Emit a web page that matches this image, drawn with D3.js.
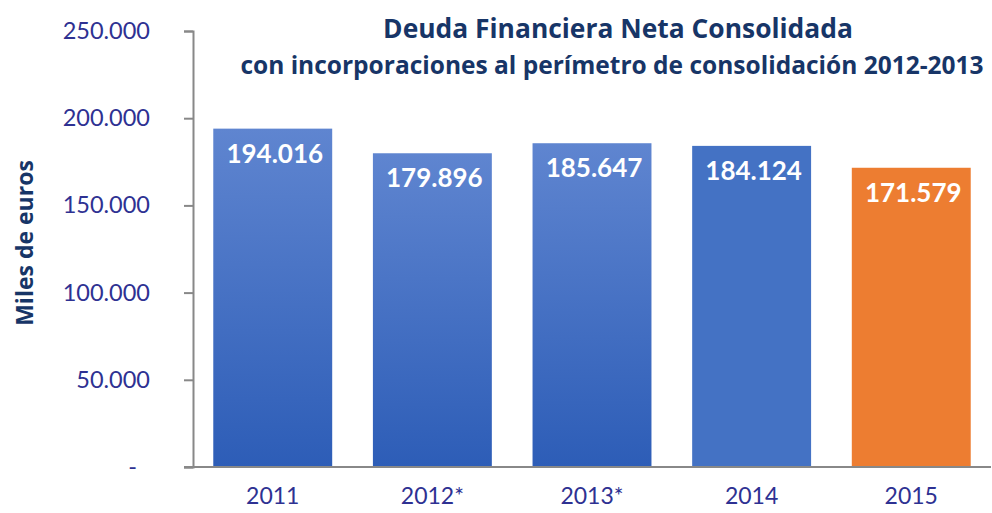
<!DOCTYPE html>
<html>
<head>
<meta charset="utf-8">
<script src="https://cdn.jsdelivr.net/npm/d3@7"></script>
<style>
  body { margin: 0; background: #fff; }
  text { font-family: Lato, "Noto Sans", sans-serif; }
</style>
</head>
<body>
<script>
// chart data
var years = ["2011", "2012*", "2013*", "2014", "2015"];
var deuda = [194016, 179896, 185647, 184124, 171579];
var barStyle = ["grad", "grad", "grad", "flat", "orange"];
var yTicks = [0, 50000, 100000, 150000, 200000, 250000];

var width = 992,
    height = 513;

var svg = d3.select("body")
            .append("svg")
            .attr("width", width)
            .attr("height", height);

// gradient for the first bars
var defs = svg.append("defs");
var grad = defs.append("linearGradient")
    .attr("id", "blueGrad")
    .attr("x1", 0).attr("y1", 0).attr("x2", 0).attr("y2", 1);
grad.append("stop").attr("offset", "0%").attr("stop-color", "#5f85d0");
grad.append("stop").attr("offset", "100%").attr("stop-color", "#2d5db7");

var fills = { grad: "url(#blueGrad)", flat: "#4472c4", orange: "#ed7d31" };

var x = d3.scaleBand()
    .domain(years)
    .range([193, 991])
    .paddingInner(0.255)
    .paddingOuter(0.127);

var y = d3.scaleLinear()
    .domain([0, 250000])
    .range([467, 31]);

var fmt = function(d) {
    if (d === 0) return "-";
    return d3.format(",")(d).replace(/,/g, ".");
};

// bars
svg.append("g")
  .selectAll("rect")
  .data(deuda)
  .enter().append("rect")
    .attr("x", function(d, i) { return x(years[i]); })
    .attr("y", function(d) { return y(d); })
    .attr("width", x.bandwidth())
    .attr("height", function(d) { return y(0) - y(d); })
    .attr("fill", function(d, i) { return fills[barStyle[i]]; });

// value labels
svg.append("g")
  .selectAll("text")
  .data(deuda)
  .enter().append("text")
    .attr("x", function(d, i) { return x(years[i]) + x.bandwidth() / 2 + 2; })
    .attr("y", function(d) { return y(d) + 34; })
    .attr("text-anchor", "middle")
    .attr("fill", "#fff")
    .attr("font-weight", "bold")
    .attr("font-size", 26)
    .text(function(d) { return fmt(d); });

// y axis
var yAxis = svg.append("g")
    .attr("transform", "translate(193,0)")
    .call(d3.axisLeft(y).tickValues(yTicks).tickSize(9).tickPadding(34).tickFormat(fmt));
yAxis.select(".domain").attr("stroke", "#888").attr("stroke-width", 2);
yAxis.selectAll(".tick line").attr("stroke", "#888").attr("stroke-width", 2);
yAxis.selectAll(".tick text")
    .attr("fill", "#2e3192")
    .attr("font-size", 23.5)
    .attr("dx", function(d) { return d === 0 ? -13 : 0; })
    .style("font-family", "Lato, 'Noto Sans', sans-serif");

// x axis baseline
var xAxis = svg.append("g")
    .attr("transform", "translate(0,467)")
    .call(d3.axisBottom(x).tickSize(0).tickPadding(21));
xAxis.select(".domain")
    .attr("stroke", "#888").attr("stroke-width", 2)
    .attr("d", "M184,0H991");
xAxis.selectAll(".tick text")
    .attr("fill", "#2e3192")
    .attr("font-size", 23)
    .style("font-family", "Lato, 'Noto Sans', sans-serif");

// y axis title
svg.append("text")
    .attr("transform", "translate(33,243) rotate(-90)")
    .attr("text-anchor", "middle")
    .attr("fill", "#173567")
    .attr("font-weight", "bold")
    .attr("font-size", 23)
    .style("font-family", "'Open Sans', sans-serif")
    .text("Miles de euros");

// titles
svg.append("text")
    .attr("x", 618)
    .attr("y", 38)
    .attr("text-anchor", "middle")
    .attr("fill", "#173567")
    .attr("font-weight", "bold")
    .attr("font-size", 26.4)
    .style("font-family", "'Open Sans', sans-serif")
    .text("Deuda Financiera Neta Consolidada");

svg.append("text")
    .attr("x", 612)
    .attr("y", 74)
    .attr("text-anchor", "middle")
    .attr("fill", "#173567")
    .attr("font-weight", "bold")
    .attr("font-size", 24.5)
    .style("font-family", "'Open Sans', sans-serif")
    .text("con incorporaciones al perímetro de consolidación 2012-2013");
</script>
</body>
</html>
